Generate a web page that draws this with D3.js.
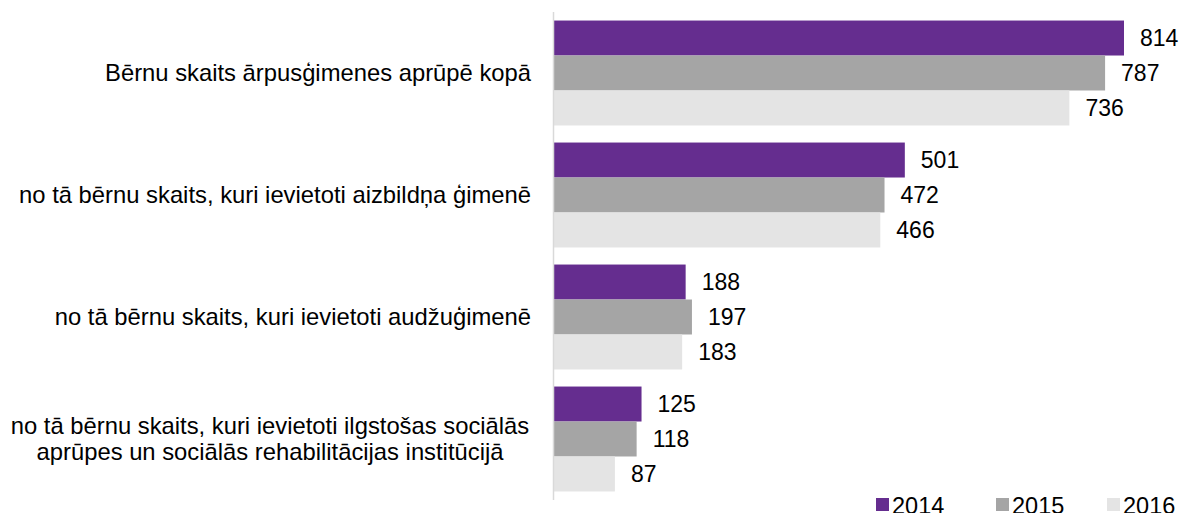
<!DOCTYPE html>
<html>
<head>
<meta charset="utf-8">
<script src="https://cdn.jsdelivr.net/npm/d3@7"></script>
<style>
  body { margin: 0; background: #fff; }
  svg { font-family: "Liberation Sans", Arial, sans-serif; }
</style>
</head>
<body>
<svg width="1184" height="513"></svg>
<script>
// chart data
const categories = [
  ["Bērnu skaits ārpusģimenes aprūpē kopā"],
  ["no tā bērnu skaits, kuri ievietoti aizbildņa ģimenē"],
  ["no tā bērnu skaits, kuri ievietoti audžuģimenē"],
  ["no tā bērnu skaits, kuri ievietoti ilgstošas sociālās", "aprūpes un sociālās rehabilitācijas institūcijā"]
];
const years = ["2014", "2015", "2016"];
const values2014 = [814, 501, 188, 125];
const values2015 = [787, 472, 197, 118];
const values2016 = [736, 466, 183, 87];
const colors = ["#652d8f", "#a5a5a5", "#e4e4e4"];

const series = [values2014, values2015, values2016];

const width = 1184;
const height = 513;
const left = 554;

const svg = d3.select("svg");

// scales
let yScale = d3.scaleBand()
  .domain(d3.range(categories.length))
  .range([12, 500])
  .paddingInner(0.14)
  .paddingOuter(0.07);

let inner = d3.scaleBand()
  .domain(years)
  .range([0, yScale.bandwidth()]);

let xScale = d3.scaleLinear()
  .domain([0, 814])
  .range([left, 1124]);

// bars
categories.forEach((cat, i) => {
  const g = svg.append("g")
    .attr("transform", `translate(0,${yScale(i)})`);

  years.forEach((yr, s) => {
    const v = series[s][i];
    g.append("rect")
      .attr("x", xScale(0))
      .attr("y", inner(yr))
      .attr("width", xScale(v) - xScale(0))
      .attr("height", inner.bandwidth())
      .attr("fill", colors[s]);

    g.append("text")
      .attr("x", xScale(v) + 16)
      .attr("y", inner(yr) + inner.bandwidth() / 2)
      .attr("dy", "0.35em")
      .attr("font-size", 23)
      .attr("fill", "#000")
      .text(v);
  });

  // category label
  const cy = yScale(i) + yScale.bandwidth() / 2;
  const lineH = 26;
  const label = svg.append("text")
    .attr("font-size", 23.8)
    .attr("fill", "#000");
  if (cat.length === 1) {
    label.attr("text-anchor", "end")
      .append("tspan")
      .attr("x", 531)
      .attr("y", cy)
      .attr("dy", "0.35em")
      .text(cat[0]);
  } else {
    label.attr("text-anchor", "middle");
    cat.forEach((line, k) => {
      label.append("tspan")
        .attr("x", 270)
        .attr("y", cy + (k - (cat.length - 1) / 2) * lineH)
        .attr("dy", "0.35em")
        .text(line);
    });
  }
});

// vertical axis line
svg.append("line")
  .attr("x1", 553.5).attr("x2", 553.5)
  .attr("y1", 12).attr("y2", 500)
  .attr("stroke", "#d9d9d9")
  .attr("stroke-width", 1.5);

// legend
const legendX = [876, 996, 1107];
years.forEach((yr, s) => {
  svg.append("rect")
    .attr("x", legendX[s])
    .attr("y", 498)
    .attr("width", 13)
    .attr("height", 13)
    .attr("fill", colors[s]);
  svg.append("text")
    .attr("x", legendX[s] + 16)
    .attr("y", 514)
    .attr("font-size", 23.5)
    .attr("fill", "#000")
    .text(yr);
});
</script>
</body>
</html>
